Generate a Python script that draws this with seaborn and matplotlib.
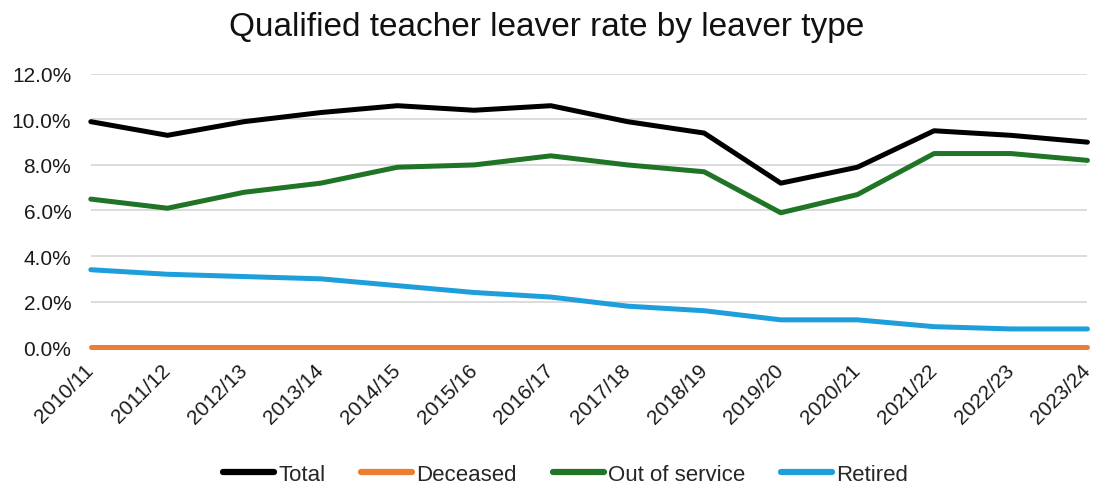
import matplotlib
matplotlib.use("Agg")
import matplotlib.pyplot as plt
import seaborn as sns
import pandas as pd
from matplotlib.ticker import FuncFormatter
from matplotlib.lines import Line2D

years = ["2010/11", "2011/12", "2012/13", "2013/14", "2014/15", "2015/16", "2016/17",
         "2017/18", "2018/19", "2019/20", "2020/21", "2021/22", "2022/23", "2023/24"]
total = [9.9, 9.3, 9.9, 10.3, 10.6, 10.4, 10.6, 9.9, 9.4, 7.2, 7.9, 9.5, 9.3, 9.0]
deceased = [0.0] * 14
out_of_service = [6.5, 6.1, 6.8, 7.2, 7.9, 8.0, 8.4, 8.0, 7.7, 5.9, 6.7, 8.5, 8.5, 8.2]
retired = [3.4, 3.2, 3.1, 3.0, 2.7, 2.4, 2.2, 1.8, 1.6, 1.2, 1.2, 0.9, 0.8, 0.8]

series = {"Total": total, "Deceased": deceased, "Out of service": out_of_service, "Retired": retired}
rows = []
for name, vals in series.items():
    for i, (y, v) in enumerate(zip(years, vals)):
        rows.append({"idx": i, "year": y, "type": name, "rate": v})
df = pd.DataFrame(rows)

order = ["Total", "Deceased", "Out of service", "Retired"]
palette = {"Total": "#000000", "Deceased": "#ED7D31", "Out of service": "#1F7426", "Retired": "#1E9FDB"}

sns.set_theme(style="white")
plt.rcParams["font.family"] = ["Liberation Sans", "DejaVu Sans"]

fig = plt.figure(figsize=(10.94, 4.89), dpi=100)
ax = fig.add_axes([0.083, 0.288, 0.911, 0.559])
sns.lineplot(data=df, x="idx", y="rate", hue="type", palette=palette, linewidth=3.6,
             ax=ax, legend=False, hue_order=["Retired", "Out of service", "Total", "Deceased"])
for ln in ax.lines:
    ln.set_clip_on(False)

ax.set_xlim(0, len(years) - 1)
ax.set_ylim(0, 12)
ax.set_yticks([0, 2, 4, 6, 8, 10, 12])
ax.yaxis.set_major_formatter(FuncFormatter(lambda v, p: f"{v:.1f}%"))
ax.set_xticks(range(len(years)))
ax.set_xticklabels(years, rotation=45, ha="right", va="center", rotation_mode="anchor")
ax.tick_params(axis="both", labelsize=15, colors="#1a1a1a", length=0)
ax.tick_params(axis="x", pad=14)
ax.tick_params(axis="y", pad=14)
ax.grid(axis="y", color="#d9d9d9", linewidth=1.3)
ax.set_axisbelow(True)
for s in ax.spines.values():
    s.set_visible(False)
ax.set_xlabel("")
ax.set_ylabel("")

fig.suptitle("Qualified teacher leaver rate by leaver type", fontsize=24, y=0.975, color="#111111")

handles = [Line2D([0], [0], color=palette[n], linewidth=4.5) for n in order]
fig.legend(handles, order, loc="lower center",
           bbox_to_anchor=(0.517, -0.035), ncol=4, frameon=False, fontsize=16,
           handlelength=2.3, handletextpad=0.2, columnspacing=1.6)

fig.savefig("out.png", dpi=100)
